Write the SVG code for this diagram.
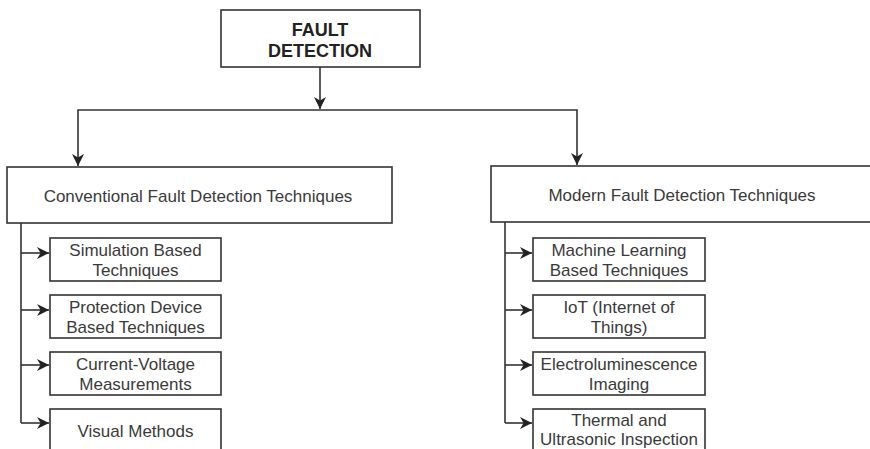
<svg xmlns="http://www.w3.org/2000/svg" width="870" height="449" viewBox="0 0 870 449">
  <style>
    .box { fill: #ffffff; stroke: #333333; stroke-width: 1.6; }
    .lbl { font-family: "Liberation Sans", Arial, sans-serif; font-size: 17px; fill: #3a3a3a; text-anchor: middle; }
    .title { font-family: "Liberation Sans", Arial, sans-serif; font-size: 18px; font-weight: bold; fill: #222222; text-anchor: middle; }
    .wire { fill: none; stroke: #333333; stroke-width: 1.6; }
  </style>
  <defs>
    <marker id="arrow" markerUnits="userSpaceOnUse" markerWidth="12" markerHeight="12" viewBox="0 0 10 10" refX="10" refY="5" orient="auto">
      <path d="M0,0 L10,5 L0,10 L3,5 Z" fill="#222222"/>
    </marker>
  </defs>
  <rect width="870" height="449" fill="#ffffff"/>

  <g id="connectors">
    <path class="wire" d="M320,67 V109" marker-end="url(#arrow)"/>
    <path class="wire" d="M320,110 H78 V166" marker-end="url(#arrow)"/>
    <path class="wire" d="M320,110 H577 V165" marker-end="url(#arrow)"/>
    <path class="wire" d="M21,223 V423"/>
    <path class="wire" d="M21,253 H49" marker-end="url(#arrow)"/>
    <path class="wire" d="M21,310 H49" marker-end="url(#arrow)"/>
    <path class="wire" d="M21,365 H49" marker-end="url(#arrow)"/>
    <path class="wire" d="M21,423 H49" marker-end="url(#arrow)"/>
    <path class="wire" d="M505,222 V423"/>
    <path class="wire" d="M505,253 H532" marker-end="url(#arrow)"/>
    <path class="wire" d="M505,310 H532" marker-end="url(#arrow)"/>
    <path class="wire" d="M505,365 H532" marker-end="url(#arrow)"/>
    <path class="wire" d="M505,423 H532" marker-end="url(#arrow)"/>
  </g>

  <g id="fault-detection">
    <rect class="box" x="221" y="10" width="199" height="57"/>
    <text class="title" x="320" y="36">FAULT</text>
    <text class="title" x="320" y="57">DETECTION</text>
  </g>

  <g id="conventional">
    <rect class="box" x="7" y="167" width="385" height="56"/>
    <text class="lbl" x="198" y="202">Conventional Fault Detection Techniques</text>
  </g>

  <g id="modern">
    <rect class="box" x="491" y="166" width="385" height="56"/>
    <text class="lbl" x="682" y="201">Modern Fault Detection Techniques</text>
  </g>

  <g id="simulation">
    <rect class="box" x="50" y="238" width="171" height="43"/>
    <text class="lbl" x="135.5" y="256">Simulation Based</text>
    <text class="lbl" x="135.5" y="276">Techniques</text>
  </g>

  <g id="protection">
    <rect class="box" x="50" y="295" width="171" height="43"/>
    <text class="lbl" x="135.5" y="313">Protection Device</text>
    <text class="lbl" x="135.5" y="333">Based Techniques</text>
  </g>

  <g id="current-voltage">
    <rect class="box" x="50" y="352" width="171" height="43"/>
    <text class="lbl" x="135.5" y="370">Current-Voltage</text>
    <text class="lbl" x="135.5" y="390">Measurements</text>
  </g>

  <g id="visual">
    <rect class="box" x="50" y="409" width="171" height="50"/>
    <text class="lbl" x="135.5" y="437">Visual Methods</text>
  </g>

  <g id="machine-learning">
    <rect class="box" x="533" y="238" width="172" height="43"/>
    <text class="lbl" x="619" y="256">Machine Learning</text>
    <text class="lbl" x="619" y="276">Based Techniques</text>
  </g>

  <g id="iot">
    <rect class="box" x="533" y="295" width="172" height="43"/>
    <text class="lbl" x="619" y="313">IoT (Internet of</text>
    <text class="lbl" x="619" y="333">Things)</text>
  </g>

  <g id="electroluminescence">
    <rect class="box" x="533" y="352" width="172" height="43"/>
    <text class="lbl" x="619" y="370">Electroluminescence</text>
    <text class="lbl" x="619" y="390">Imaging</text>
  </g>

  <g id="thermal">
    <rect class="box" x="533" y="409" width="172" height="50"/>
    <text class="lbl" x="619" y="426">Thermal and</text>
    <text class="lbl" x="619" y="445">Ultrasonic Inspection</text>
  </g>
</svg>
